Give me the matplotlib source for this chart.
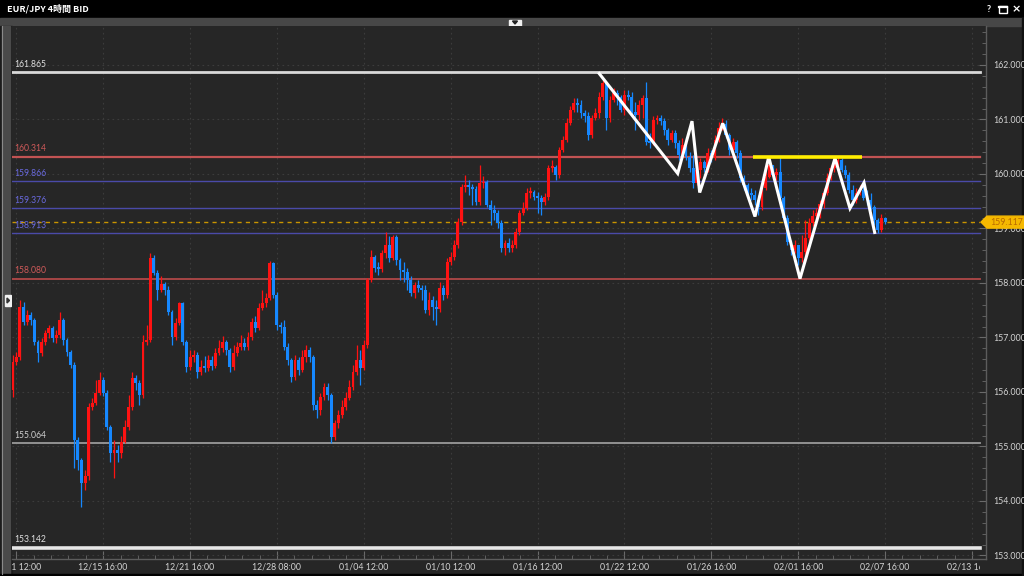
import numpy as np
import matplotlib
matplotlib.use("Agg")
import matplotlib.pyplot as plt
from matplotlib.patches import Rectangle, Polygon
from matplotlib.ticker import MultipleLocator, FixedLocator, FormatStrFormatter

plt.rcParams['font.family'] = ['Lato', 'DejaVu Sans']

# ---------------- data ----------------
title = "EUR/JPY 4時間 BID"
first_open = 156.04
closes = [156.55, 156.64, 157.56, 157.28, 157.41, 157.32, 156.92, 156.72, 156.92, 157.08, 157.18,
          156.99, 157.05, 157.32, 156.95, 156.73, 156.50, 155.12, 154.75, 154.33, 154.46,
          155.72, 155.80, 155.98, 156.22, 155.98, 155.36, 154.88, 154.94, 154.88, 155.08,
          155.36, 155.72, 156.26, 156.17, 155.94, 156.92, 156.95, 158.46, 158.18, 157.87,
          157.98, 157.87, 157.47, 157.01, 157.27, 157.63, 156.92, 156.46, 156.64, 156.68,
          156.37, 156.46, 156.44, 156.59, 156.48, 156.72, 156.81, 156.92, 156.77, 156.46,
          156.72, 156.83, 156.90, 156.83, 157.01, 157.28, 157.17, 157.54, 157.63, 157.72,
          158.37, 157.78, 157.23, 157.19, 156.83, 156.59, 156.28, 156.59, 156.40, 156.64,
          156.77, 156.64, 155.76, 155.67, 155.91, 156.09, 155.94, 155.17, 155.43, 155.58,
          155.72, 155.89, 156.09, 156.37, 156.59, 156.44, 156.86, 158.06, 158.48, 158.28,
          158.26, 158.55, 158.70, 158.46, 158.84, 158.42, 158.24, 158.20, 158.06, 157.82,
          157.96, 157.91, 157.87, 157.50, 157.69, 157.56, 157.52, 157.91, 157.78, 158.39,
          158.48, 158.70, 159.12, 159.76, 159.80, 159.76, 159.72, 159.49, 159.83, 159.85,
          159.43, 159.34, 159.28, 159.10, 158.64, 158.73, 158.64, 158.70, 158.94, 159.28,
          159.38, 159.65, 159.67, 159.58, 159.56, 159.49, 159.58, 160.11, 160.13, 159.98,
          160.44, 160.62, 160.94, 161.17, 161.30, 161.27, 161.12, 161.06, 160.72, 161.03,
          161.12, 161.41, 161.67, 161.03, 161.36, 161.49, 161.41, 161.17, 161.45, 161.41,
          161.14, 161.08, 161.27, 161.39, 160.59, 160.57, 160.99, 161.03, 160.97, 160.81,
          160.62, 160.75, 160.57, 160.35, 160.53, 160.31, 160.11, 159.83, 160.07, 160.22,
          160.11, 160.39, 160.29, 160.62, 160.84, 160.92, 160.72, 160.44, 160.59, 160.39,
          159.93, 159.80, 159.65, 159.61, 159.52, 159.39, 159.74, 159.95, 160.17, 159.98,
          160.04, 159.56, 159.19, 158.75, 158.61, 158.70, 158.46, 158.57, 158.83, 159.10,
          159.23, 159.28, 159.45, 159.65, 159.93, 160.11, 160.20, 160.26, 160.07, 159.98,
          159.71, 159.52, 159.65, 159.71, 159.56, 159.52, 159.39, 159.16, 158.97, 159.19,
          159.117]
highs = [156.68, 156.73, 157.69, 157.65, 157.50, 157.47, 157.36, 156.95, 156.99, 157.14, 157.23,
         157.21, 157.14, 157.47, 157.36, 156.99, 156.77, 156.55, 155.17, 154.79, 154.57,
         155.80, 155.89, 156.22, 156.37, 156.28, 156.04, 155.39, 155.12, 155.03, 155.19,
         155.49, 155.94, 156.37, 156.31, 156.22, 157.05, 157.23, 158.55, 158.51, 158.24,
         158.13, 158.02, 157.95, 157.50, 157.36, 157.65, 157.65, 156.95, 156.77, 156.77,
         156.73, 156.59, 156.66, 156.68, 156.66, 156.81, 156.95, 157.03, 156.95, 156.81,
         156.86, 156.92, 157.05, 156.99, 157.10, 157.36, 157.39, 157.63, 157.87, 157.82,
         158.40, 158.39, 157.83, 157.28, 157.32, 156.90, 156.62, 156.68, 156.64, 156.77,
         156.86, 156.83, 156.68, 155.85, 155.98, 156.16, 156.16, 155.98, 155.49, 155.67,
         155.85, 156.00, 156.22, 156.50, 156.86, 156.77, 156.95, 158.09, 158.61, 158.51,
         158.39, 158.61, 158.94, 158.86, 158.88, 158.88, 158.46, 158.39, 158.28, 158.13,
         158.02, 158.06, 157.96, 157.96, 157.83, 157.76, 157.69, 158.02, 157.96, 158.46,
         158.57, 158.79, 159.19, 159.82, 159.98, 159.89, 159.82, 159.78, 160.17, 159.96,
         159.89, 159.52, 159.43, 159.34, 159.16, 158.79, 158.83, 158.79, 159.01, 159.34,
         159.49, 159.74, 159.76, 159.71, 159.67, 159.61, 159.65, 160.17, 160.26, 160.17,
         160.50, 160.70, 161.03, 161.25, 161.39, 161.39, 161.36, 161.17, 161.14, 161.08,
         161.21, 161.50, 161.72, 161.69, 161.43, 161.58, 161.54, 161.45, 161.54, 161.54,
         161.50, 161.32, 161.36, 161.45, 161.69, 160.75, 161.06, 161.08, 161.08, 161.03,
         160.84, 160.81, 160.81, 160.62, 160.66, 160.68, 160.40, 160.35, 160.26, 160.29,
         160.26, 160.48, 160.44, 160.72, 160.95, 161.03, 160.99, 160.75, 160.66, 160.62,
         160.44, 159.98, 159.83, 159.74, 159.71, 159.61, 159.80, 160.07, 160.33, 160.17,
         160.11, 160.31, 159.60, 159.25, 158.79, 158.79, 158.70, 158.88, 159.16, 159.19,
         159.34, 159.38, 159.52, 159.74, 160.02, 160.17, 160.26, 160.31, 160.29, 160.17,
         160.04, 159.80, 159.74, 159.80, 159.83, 159.71, 159.65, 159.43, 159.19, 159.27,
         159.21]
lows = [155.91, 156.50, 156.59, 157.23, 157.23, 157.23, 156.86, 156.55, 156.66, 156.86, 156.99,
        156.92, 156.90, 156.99, 156.86, 156.66, 156.44, 154.60, 154.57, 153.89, 154.20,
        154.39, 155.67, 155.76, 155.94, 155.93, 155.30, 154.72, 154.42, 154.72, 154.79,
        155.06, 155.30, 155.67, 156.04, 155.76, 155.89, 156.86, 156.92, 158.15, 157.69,
        157.83, 157.78, 157.41, 156.86, 156.95, 157.23, 156.86, 156.37, 156.40, 156.55,
        156.26, 156.31, 156.37, 156.39, 156.40, 156.44, 156.68, 156.73, 156.68, 156.37,
        156.40, 156.66, 156.77, 156.77, 156.77, 156.95, 157.10, 157.14, 157.50, 157.56,
        157.69, 157.72, 157.14, 157.08, 156.77, 156.50, 156.18, 156.22, 156.31, 156.37,
        156.55, 156.55, 155.67, 155.52, 155.58, 155.85, 155.85, 155.06, 155.12, 155.34,
        155.52, 155.67, 155.85, 156.04, 156.31, 156.13, 156.40, 156.81, 158.02, 158.20,
        158.15, 158.20, 158.46, 158.39, 158.42, 158.33, 158.06, 158.02, 157.87, 157.76,
        157.72, 157.83, 157.69, 157.45, 157.41, 157.32, 157.23, 157.47, 157.69, 157.72,
        158.33, 158.42, 158.64, 159.06, 159.67, 159.61, 159.43, 159.43, 159.43, 159.74,
        159.39, 159.06, 159.16, 159.01, 158.57, 158.51, 158.57, 158.57, 158.64, 158.88,
        159.25, 159.34, 159.56, 159.52, 159.28, 159.25, 159.43, 159.52, 160.04, 159.89,
        159.93, 160.40, 160.59, 160.90, 161.14, 161.14, 161.03, 160.95, 160.62, 160.66,
        160.99, 161.03, 161.36, 160.81, 160.95, 161.32, 161.27, 161.14, 161.08, 161.36,
        161.08, 160.81, 160.99, 161.03, 160.53, 160.48, 160.53, 160.92, 160.90, 160.72,
        160.53, 160.59, 160.48, 160.26, 160.40, 160.26, 160.04, 159.74, 159.80, 159.93,
        160.04, 160.04, 160.22, 160.26, 160.59, 160.81, 160.66, 160.35, 160.40, 160.29,
        159.85, 159.71, 159.56, 159.52, 159.43, 159.25, 159.34, 159.71, 159.93, 159.89,
        159.89, 159.49, 159.12, 158.70, 158.51, 158.55, 158.33, 158.39, 158.50, 158.75,
        159.05, 159.16, 159.19, 159.38, 159.61, 159.89, 160.04, 160.11, 160.04, 159.93,
        159.65, 159.43, 159.47, 159.61, 159.52, 159.43, 159.34, 159.06, 158.92, 158.94,
        159.08]

levels = [161.865, 160.314, 159.866, 159.376, 158.913, 158.080, 155.064, 153.142]
level_colors = ['#d9d9d9', '#c25353', '#4a4aa8', '#4a4aa8', '#4a4aa8', '#b04848', '#9a9a9a', '#e6e6e6']
level_text_colors = ['#e0e0e0', '#d05a5a', '#6a6ae0', '#6a6ae0', '#6a6ae0', '#d05a5a', '#d0d0d0', '#e0e0e0']
level_widths = [2.0, 1.6, 1.0, 1.0, 1.0, 1.3, 1.3, 2.6]

current_price = 159.117

x_tick_pos = [0, 24, 48, 72, 96, 120, 144, 168, 192, 216, 240, 264]
x_tick_labels = ["12/11 12:00", "12/15 16:00", "12/21 16:00", "12/28 08:00", "01/04 12:00",
                 "01/10 12:00", "01/16 12:00", "01/22 12:00", "01/26 16:00", "02/01 16:00",
                 "02/07 16:00", "02/13 16:00"]

zig_x = [160.77, 182.71, 186.66, 188.78, 195.14, 204.06, 207.85, 216.49, 226.16, 230.30, 234.17, 237.21]
zig_y = [161.865, 160.01, 160.97, 159.66, 160.93, 159.22, 160.314, 158.08, 160.29, 159.37, 159.84, 158.90]
neck_x = [203.4, 233.5]
neck_y = [160.31, 160.31]

# ---------------- figure ----------------
W, H = 1024, 576
fig = plt.figure(figsize=(W / 100, H / 100), dpi=100, facecolor='#262626')

def box(x0, y0, x1, y1):
    return [x0 / W, 1 - y1 / H, (x1 - x0) / W, (y1 - y0) / H]

# chrome layer (pixel coordinates)
ch = fig.add_axes([0, 0, 1, 1], zorder=0)
ch.set_xlim(0, W)
ch.set_ylim(H, 0)
ch.axis('off')
ch.add_patch(Rectangle((0, 0), W, 18, color='#000000'))
ch.add_patch(Rectangle((0, 18), W, 8, color='#474747'))
ch.add_patch(Rectangle((0, 26), 12, H - 26, color='#1c1c1c'))
ch.add_patch(Rectangle((2, 26), 8, H - 28, color='#4a4a4a'))
ch.plot([1.5, 1.5], [26, 574], color='#8a8a8a', lw=0.8)
ch.add_patch(Rectangle((0, 574), W, 2, color='#000000'))
ch.add_patch(Rectangle((1022, 18), 2, H - 18, color='#111111'))
# small buttons
ch.add_patch(Rectangle((5, 295), 6, 11, color='#f0f0f0'))
ch.add_patch(Polygon([[7, 298], [7, 303], [9.5, 300.5]], color='#333333'))
ch.add_patch(Rectangle((509, 19.5), 12, 6, color='#f0f0f0'))
ch.add_patch(Polygon([[512.5, 21], [517.5, 21], [515, 24]], color='#222222'))
ch.text(7, 9, title, color='white', fontsize=6.5, fontweight='bold', va='center', ha='left',
        family=['Noto Sans CJK JP', 'DejaVu Sans'])
ch.text(989, 9.5, "?", color='white', fontsize=6.5, fontweight='bold', va='center', ha='center')
ch.add_patch(Rectangle((998.5, 6), 8, 6.5, fill=False, ec='white', lw=1.0))
ch.plot([998.5, 1006.5], [7, 7], color='white', lw=1.6)
ch.text(1016, 9.5, "×", color='white', fontsize=8, fontweight='bold', va='center', ha='center',
        family=['DejaVu Sans'])

# main price axes
ax = fig.add_axes(box(12, 26, 986, 559), zorder=2)
ax.set_facecolor('#262626')
X0, DX = 16.3, 3.62
xl = ((12 - X0) / DX, (986 - X0) / DX)
ax.set_xlim(*xl)
def ypx(y):
    return 162.0 - (y - 65) / 54.5
ax.set_ylim(ypx(559), ypx(26))

for s in ['left', 'top']:
    ax.spines[s].set_visible(False)
for s in ['bottom', 'right']:
    ax.spines[s].set_color('#5c5c5c')
    ax.spines[s].set_linewidth(1.0)

ax.xaxis.set_major_locator(FixedLocator(x_tick_pos))
ax.xaxis.set_minor_locator(MultipleLocator(4.8))
ax.tick_params(axis='x', which='both', direction='in', colors='#6a6a6a', labelbottom=False)
ax.tick_params(axis='x', which='major', length=6, width=0.8)
ax.tick_params(axis='x', which='minor', length=3, width=0.6)

ax.yaxis.set_major_locator(MultipleLocator(1.0))
ax.yaxis.set_minor_locator(MultipleLocator(0.2))
ax.yaxis.set_major_formatter(FormatStrFormatter('%.3f'))
ax.yaxis.tick_right()
ax.tick_params(axis='y', which='both', direction='in', colors='#6a6a6a', labelcolor='#d4d4d4',
               labelsize=6.3, left=False, labelleft=False, right=True, labelright=True)
ax.tick_params(axis='y', which='major', length=5, width=0.8, pad=5)
ax.tick_params(axis='y', which='minor', length=3, width=0.6)

ax.grid(which='major', color='#3c3c3c', linestyle=(0, (1.5, 3)), lw=0.8)
ax.set_axisbelow(True)

# level lines and labels
xr = (980 - 12) / (986 - 12)
for lv, c, tc, lw in zip(levels, level_colors, level_text_colors, level_widths):
    ax.axhline(lv, xmin=0, xmax=xr, color=c, lw=lw, zorder=1)
    ax.annotate(f"{lv:.3f}", xy=(0, lv), xycoords=('axes fraction', 'data'),
                xytext=(2, 3.5), textcoords='offset pixels', color=tc, fontsize=6.2,
                va='bottom', ha='left', zorder=6)

ax.axhline(current_price, xmin=0, xmax=xr, color='#c99400', lw=1.0, ls=(0, (3, 3)), zorder=1)

# candles
C = np.array(closes)
O = np.array([first_open] + closes[:-1])
Hh = np.maximum(np.array(highs), np.maximum(O, C))
Ll = np.minimum(np.array(lows), np.minimum(O, C))
idx = np.arange(-1, len(C) - 1)
up = C >= O
cols = np.where(up, '#ff1212', '#1688ff')
ax.vlines(idx, Ll, Hh, colors=cols, lw=0.9, zorder=2)
body = np.maximum(np.abs(C - O), 0.03)
ax.bar(idx, body, bottom=np.minimum(O, C), width=0.8, color=cols, lw=0, zorder=3)

# drawn pattern lines
ax.plot(zig_x, zig_y, color='white', lw=2.2, zorder=5, solid_joinstyle='miter', solid_capstyle='butt')
ax.plot(neck_x, neck_y, color='#ffee00', lw=2.6, zorder=5, solid_capstyle='butt')

# current price tag on the right axis
tr = ax.get_yaxis_transform()
hh = 6 / 54.5
xa = (981 - 12) / 974
xb = (987 - 12) / 974
xc = (1024 - 12) / 974
tag = Polygon([[xa, current_price], [xb, current_price + hh], [xc, current_price + hh],
               [xc, current_price - hh], [xb, current_price - hh]],
              closed=True, transform=tr, clip_on=False, color='#f5b800', zorder=10)
ax.add_patch(tag)
ax.text(990 / 974 - 12 / 974, current_price, f"{current_price:.3f}", transform=tr, color='#b86a00',
        fontsize=6.3, va='center', ha='left', clip_on=False, zorder=11)

# bottom time-axis labels (clipped to plot width, as in the trading terminal)
sx = fig.add_axes(box(12, 559, 980, 574), zorder=1)
sx.set_xlim(xl[0], (980 - X0) / DX)
sx.set_ylim(0, 1)
sx.axis('off')
for p, lab in zip(x_tick_pos, x_tick_labels):
    sx.text(p, 0.45, lab, color='#d4d4d4', fontsize=6.3, ha='center', va='center', clip_on=True)

fig.savefig("out.png", dpi=100, facecolor=fig.get_facecolor())
